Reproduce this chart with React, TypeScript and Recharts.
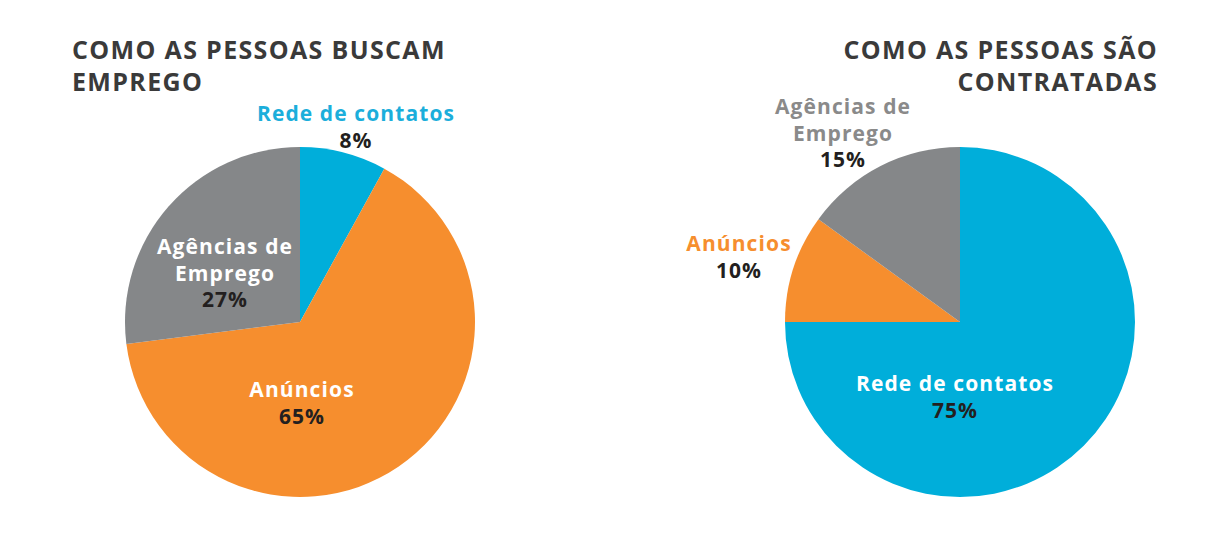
import React from "react";
import { PieChart, Pie, Cell } from "recharts";

const CATEGORIES = ["Rede de contatos", "Anúncios", "Agências de Emprego"];
const BUSCAM = [8, 65, 27];
const CONTRATADAS = [75, 10, 15];
const COLORS = ["#00AEDA", "#F68E2E", "#858789"];

const TITLE_LEFT = ["COMO AS PESSOAS BUSCAM", "EMPREGO"];
const TITLE_RIGHT = ["COMO AS PESSOAS SÃO", "CONTRATADAS"];

const W = 1216;
const H = 544;
const R = 175;
const LEFT_C = { x: 300, y: 322 };
const RIGHT_C = { x: 960, y: 322 };

// label placement (offset from pie centre to first baseline) + name colour
const LEFT_LABELS: Record<string, { dx: number; dy: number; color: string }> = {
  "Rede de contatos": { dx: 56, dy: -201, color: "#1BAEDB" },
  "Anúncios": { dx: 2, dy: 75, color: "#ffffff" },
  "Agências de Emprego": { dx: -75, dy: -68, color: "#ffffff" },
};
const RIGHT_LABELS: Record<string, { dx: number; dy: number; color: string }> = {
  "Rede de contatos": { dx: -5, dy: 69, color: "#ffffff" },
  "Anúncios": { dx: -221, dy: -71, color: "#F68E2E" },
  "Agências de Emprego": { dx: -117, dy: -208, color: "#8A8A8A" },
};

const toRows = (vals: number[]) => CATEGORIES.map((name, i) => ({ name, value: vals[i] }));
const wrap = (name: string) => (name === "Agências de Emprego" ? ["Agências de", "Emprego"] : [name]);

const FONT = "'Open Sans', sans-serif";
const LH = 26.5;

function makeLabel(center: { x: number; y: number }, pos: typeof LEFT_LABELS) {
  return (props: any) => {
    const p = pos[props.name];
    if (!p) return null;
    const x = center.x + p.dx;
    const y = center.y + p.dy;
    const lines = wrap(props.name);
    return (
      <text x={x} y={y} textAnchor="middle" fontFamily={FONT} fontWeight={700} fontSize={21} letterSpacing={1.1}>
        {lines.map((l, i) => (
          <tspan key={i} x={x} dy={i === 0 ? 0 : LH} fill={p.color}>
            {l}
          </tspan>
        ))}
        <tspan x={x} dy={LH} fill="#231F20">
          {props.value}%
        </tspan>
      </text>
    );
  };
}

const titleStyle: React.CSSProperties = {
  position: "absolute",
  top: 33,
  fontFamily: FONT,
  fontWeight: 700,
  fontSize: 25,
  lineHeight: "32px",
  letterSpacing: 1.35,
  color: "#3A3A3A",
};

export default function App() {
  return (
    <div style={{ position: "absolute", left: 0, top: 0, width: W, height: H, background: "#fff" }}>
      <div style={{ ...titleStyle, left: 72, textAlign: "left" }}>
        {TITLE_LEFT.map((t) => (
          <div key={t}>{t}</div>
        ))}
      </div>
      <div style={{ ...titleStyle, right: W - 1158, textAlign: "right" }}>
        {TITLE_RIGHT.map((t) => (
          <div key={t}>{t}</div>
        ))}
      </div>
      <PieChart
        width={W}
        height={H}
        margin={{ top: 0, right: 0, bottom: 0, left: 0 }}
        style={{ position: "absolute", left: 0, top: 0 }}
      >
        <Pie
          data={toRows(BUSCAM)}
          dataKey="value"
          nameKey="name"
          cx={LEFT_C.x}
          cy={LEFT_C.y}
          outerRadius={R}
          startAngle={90}
          endAngle={-270}
          stroke="none"
          labelLine={false}
          label={makeLabel(LEFT_C, LEFT_LABELS)}
          isAnimationActive={false}
        >
          {BUSCAM.map((_, i) => (
            <Cell key={i} fill={COLORS[i]} />
          ))}
        </Pie>
        <Pie
          data={toRows(CONTRATADAS)}
          dataKey="value"
          nameKey="name"
          cx={RIGHT_C.x}
          cy={RIGHT_C.y}
          outerRadius={R}
          startAngle={90}
          endAngle={-270}
          stroke="none"
          labelLine={false}
          label={makeLabel(RIGHT_C, RIGHT_LABELS)}
          isAnimationActive={false}
        >
          {CONTRATADAS.map((_, i) => (
            <Cell key={i} fill={COLORS[i]} />
          ))}
        </Pie>
      </PieChart>
    </div>
  );
}
